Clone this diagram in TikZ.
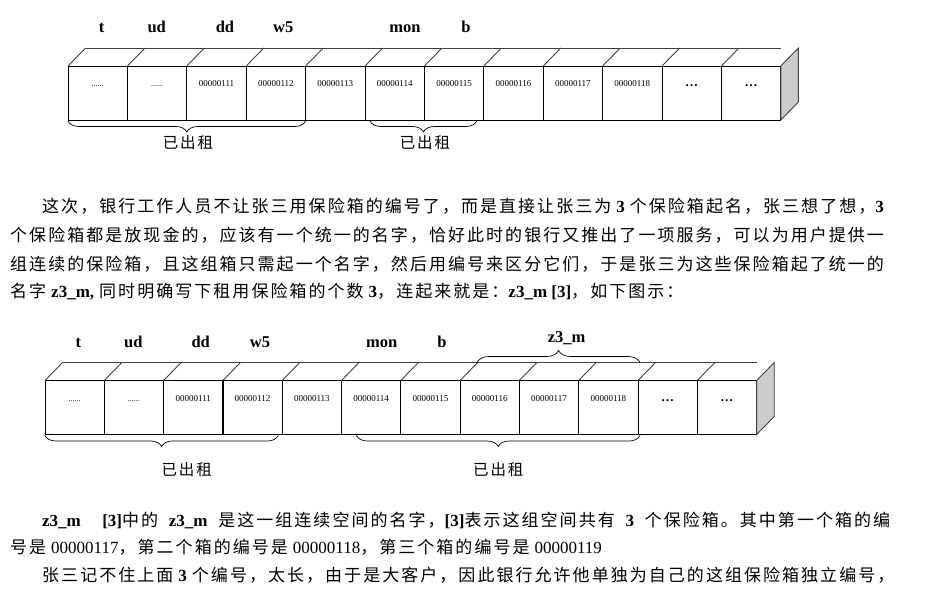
\documentclass[tikz,border=0pt]{standalone}
\usepackage{fontspec}
\setmainfont{Liberation Serif}
\newfontfamily\cjk[LetterSpace=12]{Noto Sans CJK SC}
\usetikzlibrary{decorations.pathreplacing}
\XeTeXlinebreaklocale "zh"
\XeTeXlinebreakskip=0pt plus 2pt

\newcommand\lb[1]{{\rmfamily\bfseries #1}}
\newcommand\gap{\hspace{5pt}}
\newcommand\sgap{\hspace{5pt plus 4pt}}
\newcommand\dts{{\fontsize{13}{13}\selectfont\bfseries\ldots}}
\newcommand\sdots{{\fontsize{8}{8}\selectfont ......}}

\begin{document}
\begin{tikzpicture}[
    x=1pt, y=-1pt,
    box/.style={draw, line width=0.8pt, minimum width=59.4pt, minimum height=54pt, inner sep=0pt, outer sep=0pt},
    num/.style={font=\fontsize{9}{9}\selectfont, inner sep=0pt, anchor=base},
    tag/.style={font=\fontsize{16.5}{18}\selectfont\bfseries, inner sep=0pt, anchor=base},
    top/.style={draw=black!75, line width=0.9pt},
    side/.style={fill=black!20, draw=black!75, line width=0.9pt},
    brc/.style={decorate, decoration={brace, mirror, amplitude=11pt}, line width=0.7pt},
    brcup/.style={decorate, decoration={brace, amplitude=12pt}, line width=0.7pt},
    lab/.style={font=\fontsize{15.5}{18}\selectfont\cjk, inner sep=0pt},
    zh/.style={font=\fontsize{17}{20}\selectfont\cjk, inner sep=0pt, anchor=west}
  ]
    \useasboundingbox (0,0) rectangle (938,598);

    % --- FIRST ROW OF BOXES ---
    \foreach \i/\t in {1/\sdots, 2/\sdots, 3/00000111, 4/00000112, 5/00000113, 6/00000114,
                       7/00000115, 8/00000116, 9/00000117, 10/00000118, 11/\dts, 12/\dts} {
        \node[box] (a\i) at ({68+(\i-0.5)*59.4}, 93) {};
        \node[num] (na\i) at ([yshift=-20.5pt]a\i.north) {\t};
        \draw[top] (a\i.north west) -- ++(17.6,-18);
    }
    % back edge and right face
    \draw[top] (a1.north west) ++(17.6,-18) coordinate (ba) -- (a12.north east |- ba);
    \draw[side] (a12.north east) -- ++(17.6,-18) -- ++(0,54) -- (a12.south east) -- cycle;

    % names above the boxes
    \node[tag] (t1) at (101.7,32) {t};
    \node[tag] (u1) at (156.7,32) {ud};
    \node[tag] (d1) at (225,32) {dd};
    \node[tag] (w1) at (283.3,32) {w5};
    \node[tag] (m1) at (405,32) {mon};
    \node[tag] (b1) at (466,32) {b};

    % rented boxes
    \draw[brc] ([yshift=-1pt]a1.south west) -- ([yshift=-1pt]a4.south east);
    \draw[brc] ([xshift=5pt,yshift=-1pt]a6.south west) -- ([xshift=-7pt,yshift=-1pt]a7.south east);
    \node[lab] (r1) at (188,143) {已出租};
    \node[lab] (r2) at (425,143) {已出租};

    % --- FIRST PARAGRAPH ---
    \node[zh] (p1) at (42,206) {\makebox[848pt][s]{这次，银行工作人员不让张三用保险箱的编号了，而是直接让张三为\gap\lb{3}\gap 个保险箱起名，张三想了想，\lb{3}}};
    \node[zh] (p2) at (10,235) {\makebox[880pt][s]{个保险箱都是放现金的，应该有一个统一的名字，恰好此时的银行又推出了一项服务，可以为用户提供一}};
    \node[zh] (p3) at (10,264) {\makebox[880pt][s]{组连续的保险箱，且这组箱只需起一个名字，然后用编号来区分它们，于是张三为这些保险箱起了统一的}};
    \node[zh] (p4) at (10,292) {名字\gap\lb{z3\_m,}\gap 同时明确写下租用保险箱的个数\gap\lb{3}，连起来就是：\lb{z3\_m [3]}，如下图示：};

    % --- SECOND ROW OF BOXES ---
    \foreach \i/\t in {1/\sdots, 2/\sdots, 3/00000111, 4/00000112, 5/00000113, 6/00000114,
                       7/00000115, 8/00000116, 9/00000117, 10/00000118, 11/\dts, 12/\dts} {
        \node[box] (c\i) at ({45+(\i-0.5)*59.3}, 407.5) {};
        \node[num] (nc\i) at ([yshift=-20.5pt]c\i.north) {\t};
        \draw[top] (c\i.north west) -- ++(17.6,-18);
    }
    \draw[top] (c1.north west) ++(17.6,-18) coordinate (bc) -- (c12.north east |- bc);
    \draw[side] (c12.north east) -- ++(17.6,-18) -- ++(0,54) -- (c12.south east) -- cycle;

    \node[tag] (t2) at (78.3,347.5) {t};
    \node[tag] (u2) at (133.3,347.5) {ud};
    \node[tag] (d2) at (200.7,347.5) {dd};
    \node[tag] (w2) at (260,347.5) {w5};
    \node[tag] (m2) at (381.7,347.5) {mon};
    \node[tag] (b2) at (442,347.5) {b};

    % the named group z3_m
    \draw[brcup] (c8.north west |- bc) ++(17,0) -- ([xshift=2pt]c10.north east |- bc);
    \node[tag] (z) at (566.7,342.5) {z3\_m};

    \draw[brc] ([yshift=-1pt]c1.south west) -- ([xshift=-4pt,yshift=-1pt]c4.south east);
    \draw[brc] ([xshift=15pt,yshift=-1pt]c6.south west) -- ([xshift=2pt,yshift=-1pt]c10.south east);
    \node[lab] (r3) at (186.7,470) {已出租};
    \node[lab] (r4) at (498.3,470) {已出租};

    % --- SECOND PARAGRAPH ---
    \node[zh] (p5) at (42,520) {\makebox[848pt][s]{\lb{z3\_m}\sgap\sgap\lb{[3]}中的\sgap\lb{z3\_m}\sgap 是这一组连续空间的名字，\lb{[3]}表示这组空间共有\sgap\lb{3}\sgap 个保险箱。其中第一个箱的编}};
    \node[zh] (p6) at (10,547) {号是\gap{\rmfamily 00000117}，第二个箱的编号是\gap{\rmfamily 00000118}，第三个箱的编号是\gap{\rmfamily 00000119}};
    \node[zh] (p7) at (42,575) {\makebox[848pt][s]{张三记不住上面\gap\lb{3}\gap 个编号，太长，由于是大客户，因此银行允许他单独为自己的这组保险箱独立编号，}};

\end{tikzpicture}
\end{document}
